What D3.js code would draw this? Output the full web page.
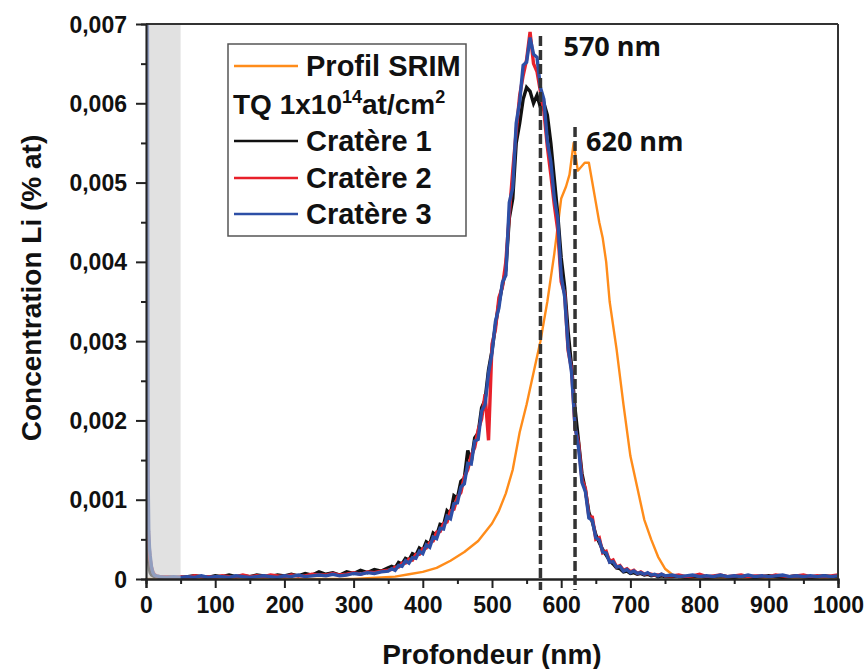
<!DOCTYPE html>
<html>
<head>
<meta charset="utf-8">
<script src="https://cdn.jsdelivr.net/npm/d3@7"></script>
<style>
  body { margin: 0; background: #fff; }
  text { font-family: "Liberation Sans", Arial, sans-serif; font-weight: bold; fill: #111; }
</style>
</head>
<body>
<div id="chart"></div>
<script>
// depth grid (nm) shared by the three craters
var depth = [2,3,4,5,6,8,10,12,15,20,30,40,50,
  60,70,80,90,100,110,120,130,140,150,
  160,170,180,190,200,210,220,230,240,250,
  260,270,280,290,300,310,320,330,340,350,
  355,360,365,370,375,380,385,390,395,400,
  405,410,415,420,425,430,435,440,445,450,
  455,460,465,470,475,480,485,490,495,500,
  505,510,515,520,525,530,535,540,545,550,
  555,560,565,570,575,580,585,590,595,600,
  605,610,615,620,625,630,635,640,645,650,
  655,660,665,670,675,680,685,690,695,700,
  705,710,715,720,725,730,735,740,745,750,
  760,770,780,790,800,810,820,830,840,850,
  860,870,880,890,900,910,920,930,940,950,
  960,970,980,990,1000];

// concentrations in units of 1e-4 % at
var crater1 = [6,3,2,1.2,0.8,0.5,0.4,0.3,0.3,0.2,0.3,0.2,0.2,
  0.3,0.4,0.3,0.2,0.4,0.3,0.5,0.3,0.4,0.3,
  0.5,0.4,0.3,0.5,0.4,0.6,0.4,0.7,0.5,0.9,
  0.6,0.8,0.5,0.9,0.7,1.1,0.8,1.2,1.0,1.4,
  1.6,1.4,2.1,1.9,2.6,2.4,3.2,3.0,3.9,3.6,
  4.7,4.4,5.8,5.5,6.9,6.8,8.6,8.2,10.5,10.2,
  12.3,12.7,16.2,14.8,17.8,18.4,21.6,22.6,26.4,28.8,
  32.0,34.8,37.0,39.0,45.5,48.0,55.0,57.5,60.5,62.0,
  61.5,60.0,61.0,59.5,60.0,58.5,55.0,50.5,46.0,40.5,
  36.8,31.2,26.8,21.5,17.4,13.3,11.2,8.4,7.2,5.6,
  4.6,3.7,3.0,2.3,1.9,1.4,1.3,0.9,1.0,0.7,
  0.8,0.6,0.7,0.5,0.6,0.4,0.5,0.3,0.4,0.3,
  0.3,0.4,0.2,0.3,0.4,0.2,0.3,0.4,0.3,0.2,
  0.4,0.3,0.2,0.3,0.4,0.3,0.2,0.3,0.4,0.3,
  0.2,0.3,0.4,0.3,0.3];

var crater2 = [21,7,5,3.5,2.5,1.5,0.9,0.6,0.4,0.3,0.3,0.2,0.3,
  0.2,0.4,0.3,0.3,0.2,0.4,0.3,0.3,0.5,0.3,
  0.4,0.3,0.5,0.4,0.3,0.5,0.4,0.4,0.6,0.5,
  0.5,0.7,0.5,0.6,0.8,0.6,0.9,0.8,1.0,1.1,
  1.2,1.5,1.5,2.0,2.0,2.5,2.4,3.1,3.1,3.8,
  3.9,4.6,4.8,5.9,6.0,7.0,7.2,8.6,8.8,10.3,
  10.9,12.9,13.8,15.6,16.6,18.8,20.2,23.3,17.5,29.6,
  31.5,35.5,36.8,40.0,46.0,51.5,56.5,61.0,63.5,65.5,
  69.0,65.0,64.0,61.5,59.0,54.5,51.0,47.2,44.0,37.5,
  36.0,28.8,26.5,19.0,17.2,12.6,11.4,7.9,7.8,5.0,
  5.2,3.3,3.5,2.2,2.4,1.5,1.7,1.1,1.3,0.9,
  1.1,0.7,0.9,0.6,0.7,0.6,0.5,0.5,0.6,0.4,
  0.4,0.5,0.3,0.4,0.6,0.3,0.4,0.5,0.3,0.4,
  0.5,0.3,0.4,0.4,0.3,0.5,0.4,0.3,0.4,0.5,
  0.3,0.4,0.3,0.4,0.5];

var crater3 = [75,13,6,4,3,1.5,0.8,0.5,0.4,0.3,0.2,0.3,0.2,
  0.3,0.2,0.4,0.2,0.3,0.3,0.2,0.4,0.3,0.2,
  0.3,0.4,0.3,0.2,0.4,0.3,0.5,0.3,0.4,0.5,
  0.4,0.6,0.4,0.5,0.7,0.6,0.8,0.7,0.9,1.0,
  1.3,1.1,1.7,1.6,2.3,2.0,2.7,2.6,3.5,3.2,
  4.3,4.0,5.3,5.1,6.4,6.3,7.9,7.6,9.5,9.6,
  11.6,12.0,14.6,14.5,17.4,17.6,21.2,22.0,26.0,28.5,
  32.5,34.2,37.4,38.3,47.5,49.3,57.5,60.2,64.8,65.2,
  68.3,66.2,65.8,62.0,60.5,55.2,52.6,48.1,45.5,38.2,
  35.6,29.2,26.0,19.3,16.6,12.2,11.0,7.7,7.4,5.2,
  4.9,3.4,3.3,2.1,2.2,1.5,1.6,1.0,1.2,0.8,
  1.0,0.7,0.8,0.6,0.8,0.5,0.6,0.4,0.6,0.4,
  0.5,0.3,0.4,0.5,0.3,0.4,0.3,0.5,0.3,0.4,
  0.3,0.5,0.3,0.4,0.3,0.4,0.5,0.3,0.4,0.3,
  0.4,0.3,0.4,0.3,0.4];

// SRIM profile
var srimDepth = [0,300,320,340,360,380,400,420,440,460,480,500,510,520,530,540,550,560,570,580,590,
  600,607,612,618,624,629,634,640,645,650,655,660,665,670,680,690,700,710,720,730,740,750,760,770,780,800,1000];
var srimConc = [0,0,0.1,0.2,0.3,0.6,0.9,1.4,2.3,3.4,4.8,7.0,8.6,10.8,13.8,18.5,22,26,30,35,41,
  48,49.5,51,55,51.5,52,52.5,52.5,50,47.5,45,43,40,35,29,22,15.5,11.5,7.5,5,2.8,1.3,0.6,0.2,0.1,0,0];

var yTicks = [0, 0.001, 0.002, 0.003, 0.004, 0.005, 0.006, 0.007];
var xTicks = [0, 100, 200, 300, 400, 500, 600, 700, 800, 900, 1000];
var markers = [570, 620];
var legendNames = ["Profil SRIM", "Cratère 1", "Cratère 2", "Cratère 3"];
var colours = {srim: "#ff8c1a", c1: "#111111", c2: "#e8202a", c3: "#2d4fa6"};

var chartWidth = 866, chartHeight = 669;
var plotLeft = 146, plotRight = 838, plotTop = 24, plotBottom = 579;

var svg = d3.select("#chart").append("svg")
    .attr("width", chartWidth)
    .attr("height", chartHeight);

svg.append("rect").attr("width", chartWidth).attr("height", chartHeight).attr("fill", "#fff");

var x = d3.scaleLinear().domain([0, 1000]).range([plotLeft, plotRight]);
var y = d3.scaleLinear().domain([0, 0.007]).range([plotBottom, plotTop]);

svg.append("clipPath").attr("id", "plotClip")
    .append("rect")
    .attr("x", plotLeft).attr("y", plotTop)
    .attr("width", plotRight - plotLeft).attr("height", plotBottom - plotTop);

var plot = svg.append("g").attr("clip-path", "url(#plotClip)");

function series(xs, ys) {
    return xs.map((d, i) => [d, ys[i] * 1e-4]);
}
var line = d3.line().x(d => x(d[0])).y(d => y(d[1]));

plot.append("path")
    .datum(series(srimDepth, srimConc))
    .attr("d", line)
    .attr("fill", "none")
    .attr("stroke", colours.srim)
    .attr("stroke-width", 2.4)
    .attr("stroke-linejoin", "round");

[[crater1, colours.c1], [crater2, colours.c2], [crater3, colours.c3]].forEach(s => {
    plot.append("path")
        .datum(series(depth, s[0]))
        .attr("d", line)
        .attr("fill", "none")
        .attr("stroke", s[1])
        .attr("stroke-width", 3.4)
        .attr("stroke-linejoin", "miter");
});

// grey surface band
svg.append("rect")
    .attr("x", x(1.5)).attr("y", plotTop + 1)
    .attr("width", x(50) - x(1.5)).attr("height", plotBottom - plotTop - 1)
    .attr("fill", "#cfcfcf")
    .attr("opacity", 0.62);

// frame
svg.append("line").attr("x1", plotLeft).attr("x2", plotRight).attr("y1", plotTop).attr("y2", plotTop)
    .attr("stroke", "#333").attr("stroke-width", 2);
svg.append("line").attr("x1", plotRight).attr("x2", plotRight).attr("y1", plotTop).attr("y2", plotBottom)
    .attr("stroke", "#333").attr("stroke-width", 2);

// axes
var yAxis = d3.axisLeft(y).tickValues(yTicks).tickSize(10).tickPadding(9)
    .tickFormat(d => d === 0 ? "0" : d3.format(".3f")(d).replace(".", ","));
var yMinor = d3.axisLeft(y).tickValues(d3.range(0.0005, 0.007, 0.001)).tickSize(5).tickFormat("");
var xAxis = d3.axisBottom(x).tickValues(xTicks).tickSize(9).tickPadding(9).tickFormat(d3.format("d"));
var xMinor = d3.axisBottom(x).tickValues(d3.range(50, 1000, 100)).tickSize(5).tickFormat("");

var gy = svg.append("g").attr("transform", "translate(" + plotLeft + ",0)").call(yAxis);
svg.append("g").attr("transform", "translate(" + plotLeft + ",0)").call(yMinor);
var gx = svg.append("g").attr("transform", "translate(0," + plotBottom + ")").call(xAxis);
svg.append("g").attr("transform", "translate(0," + plotBottom + ")").call(xMinor);

svg.selectAll(".domain").attr("stroke", "#222").attr("stroke-width", 2);
gy.select(".domain").attr("stroke-width", 1.2);
svg.selectAll(".tick line").attr("stroke", "#222").attr("stroke-width", 2);
svg.selectAll(".tick text").style("font-size", "23px").style("font-weight", "bold")
    .attr("fill", "#111");
gy.selectAll(".tick text").attr("dy", "0.35em");

// axis titles
svg.append("text")
    .attr("x", (plotLeft + plotRight) / 2).attr("y", 664)
    .attr("text-anchor", "middle")
    .style("font-size", "28px")
    .text("Profondeur (nm)");
svg.append("text")
    .attr("transform", "translate(41,288) rotate(-90)")
    .attr("text-anchor", "middle")
    .style("font-size", "28px")
    .text("Concentration Li (% at)");

// dashed peak markers
svg.selectAll(".marker").data(markers).enter()
    .append("line")
    .attr("x1", d => x(d)).attr("x2", d => x(d))
    .attr("y1", (d, i) => i === 0 ? 36 : 127)
    .attr("y2", 590)
    .attr("stroke", "#333")
    .attr("stroke-width", 3.5)
    .attr("stroke-dasharray", "10,4");
svg.selectAll(".mlabel").data(markers).enter()
    .append("text")
    .attr("x", (d, i) => x(d) + (i === 0 ? 23 : 11))
    .attr("y", (d, i) => i === 0 ? 56 : 151)
    .style("font-family", "'Open Sans', sans-serif")
    .style("font-size", "27px")
    .attr("fill", "#222")
    .text(d => d + " nm");

// legend
var lg = svg.append("g");
lg.append("rect")
    .attr("x", 228).attr("y", 44).attr("width", 238).attr("height", 192)
    .attr("fill", "#fff").attr("stroke", "#555").attr("stroke-width", 1.5);
var rowsY = [66, 141, 178, 214];
var rowColours = [colours.srim, colours.c1, colours.c2, colours.c3];
legendNames.forEach((name, i) => {
    lg.append("line")
        .attr("x1", 234).attr("x2", 298)
        .attr("y1", rowsY[i]).attr("y2", rowsY[i])
        .attr("stroke", rowColours[i]).attr("stroke-width", 2.5);
    lg.append("text")
        .attr("x", 306).attr("y", rowsY[i]).attr("dy", "0.36em")
        .style("font-size", "29px")
        .text(name);
});
var tq = lg.append("text").attr("x", 233).attr("y", 104).attr("dy", "0.36em")
    .style("font-size", "28px");
tq.append("tspan").text("TQ 1x10");
tq.append("tspan").attr("dy", "-11").style("font-size", "18px").text("14");
tq.append("tspan").attr("dy", "11").text("at/cm");
tq.append("tspan").attr("dy", "-11").style("font-size", "18px").text("2");
</script>
</body>
</html>
